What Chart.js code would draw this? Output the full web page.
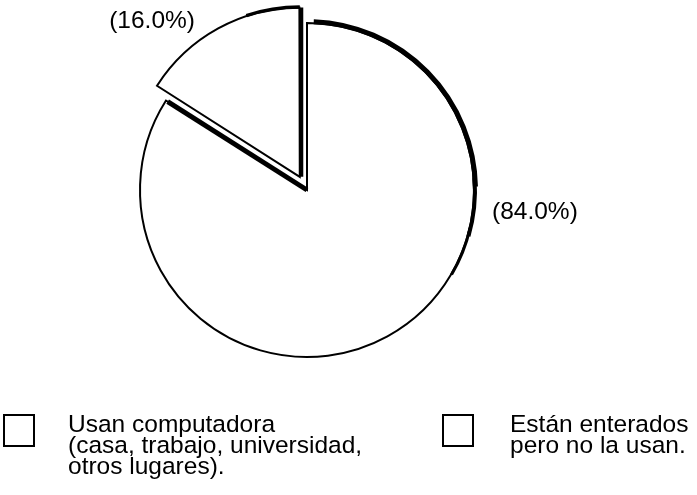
<!DOCTYPE html>
<html><head><meta charset="utf-8">
<script src="https://cdn.jsdelivr.net/npm/chart.js@4/dist/chart.umd.min.js"></script>
<style>html,body{margin:0;padding:0;background:#fff;}#wrap{position:relative;width:697px;height:495px;}</style>
</head><body><div id="wrap"><canvas id="c" width="697" height="495"></canvas></div>
<script>
// ---- data ----
const categories = ['Usan computadora (casa, trabajo, universidad, otros lugares).', 'Están enterados pero no la usan.'];
const legendLines = [
  ['Usan computadora', '(casa, trabajo, universidad,', 'otros lugares).'],
  ['Están enterados', 'pero no la usan.']
];
const shares = [84.0, 16.0];
const pctLabels = ['(84.0%)', '(16.0%)'];
const sliceOffsets = [0, 60];

const FONT = '"Liberation Sans", Arial, Helvetica, sans-serif';

function arcGeom(el) {
  const p = el.getProps(['x', 'y', 'startAngle', 'endAngle', 'outerRadius', 'circumference'], true);
  const off = (el.options.offset || 0) / 4;
  const half = (p.startAngle + p.endAngle) / 2;
  const fix = 1 - Math.sin(Math.min(Math.PI, p.circumference || 0));
  return {
    x: p.x + Math.cos(half) * off,
    y: p.y + Math.sin(half) * off,
    r: p.outerRadius + off * fix,
    s: p.startAngle, e: p.endAngle
  };
}

const edgePlugin = {
  id: 'edges',
  afterDatasetsDraw(chart) {
    const ctx = chart.ctx;
    const meta = chart.getDatasetMeta(0);
    const big = arcGeom(meta.data[0]);
    const small = arcGeom(meta.data[1]);
    ctx.save();
    ctx.strokeStyle = '#000';
    ctx.lineCap = 'butt';
    // heavy rim on the upper right of the large slice, tapering down
    const segs = [[0.04, 1.55, 5], [1.5, 1.85, 4], [1.8, 2.1, 3]];
    segs.forEach(([a, b, w]) => {
      ctx.lineWidth = w;
      ctx.beginPath();
      ctx.arc(big.x, big.y, big.r + w / 2 - 1, big.s + a, big.s + b);
      ctx.stroke();
    });
    // heavy straight edge of the large slice facing the small one
    ctx.lineWidth = 5;
    ctx.beginPath();
    ctx.moveTo(big.x, big.y);
    ctx.lineTo(big.x + Math.cos(big.e) * (big.r - 2), big.y + Math.sin(big.e) * (big.r - 2));
    ctx.stroke();
    // heavy right edge and rim of the small slice
    ctx.lineWidth = 4;
    ctx.beginPath();
    ctx.moveTo(small.x + 1.5, small.y);
    ctx.lineTo(small.x + 1.5 + Math.cos(small.e) * small.r, small.y + Math.sin(small.e) * small.r);
    ctx.stroke();
    ctx.lineWidth = 3.5;
    ctx.beginPath();
    ctx.arc(small.x, small.y, small.r + 0.5, small.e - 0.32, small.e);
    ctx.stroke();
    ctx.restore();
  }
};

const textPlugin = {
  id: 'texts',
  afterDraw(chart) {
    const ctx = chart.ctx;
    ctx.save();
    ctx.fillStyle = '#000';
    ctx.textBaseline = 'alphabetic';
    ctx.font = '24.5px ' + FONT;
    // percentage labels
    ctx.textAlign = 'left';
    ctx.fillText(pctLabels[0], 492, 219);
    ctx.textAlign = 'right';
    ctx.fillText(pctLabels[1], 195, 28);
    // legend
    ctx.textAlign = 'left';
    const boxX = [4, 443], textX = [68, 510];
    legendLines.forEach((lines, i) => {
      ctx.strokeStyle = '#000';
      ctx.lineWidth = 2;
      ctx.strokeRect(boxX[i], 415, 30, 31);
      lines.forEach((t, k) => ctx.fillText(t, textX[i], 432 + k * 21));
    });
    ctx.restore();
  }
};

new Chart(document.getElementById('c'), {
  type: 'pie',
  data: {
    labels: categories,
    datasets: [{
      data: shares,
      backgroundColor: '#ffffff',
      borderColor: '#000000',
      borderWidth: 2,
      borderJoinStyle: 'miter',
      offset: sliceOffsets,
      hoverOffset: 0
    }]
  },
  options: {
    responsive: false,
    maintainAspectRatio: false,
    devicePixelRatio: 1,
    animation: false,
    events: [],
    radius: 167,
    layout: { padding: { left: 0, right: 83, top: 0, bottom: 115 } },
    plugins: { legend: { display: false }, tooltip: { enabled: false } }
  },
  plugins: [edgePlugin, textPlugin]
});
</script>
</body></html>
